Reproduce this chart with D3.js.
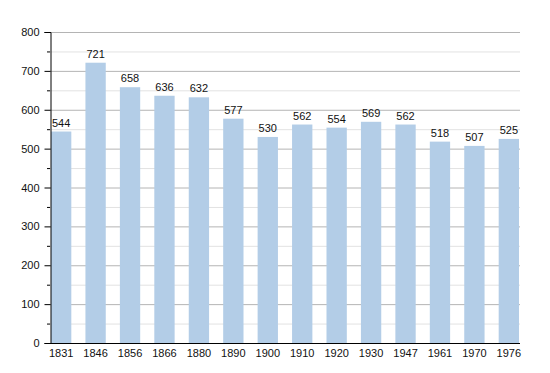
<!DOCTYPE html>
<html>
<head>
<meta charset="utf-8">
<script src="https://cdn.jsdelivr.net/npm/d3@7"></script>
<style>
  body { margin: 0; background: #fff; }
  svg text { font-family: "Liberation Sans", Arial, sans-serif; fill: #111; }
</style>
</head>
<body>
<svg width="550" height="373"></svg>
<script>
var years = ["1831", "1846", "1856", "1866", "1880", "1890", "1900", "1910", "1920", "1930", "1947", "1961", "1970", "1976"];
var population = [544, 721, 658, 636, 632, 577, 530, 562, 554, 569, 562, 518, 507, 525];
var yTicks = [0, 100, 200, 300, 400, 500, 600, 700, 800];
var yMinor = [50, 150, 250, 350, 450, 550, 650, 750];

var width = 550, height = 373;
var margin = {left: 50, right: 30, top: 32, bottom: 30};

var svg = d3.select("svg");

var x = d3.scaleBand()
  .domain(years)
  .range([margin.left + 1, width - margin.right - 1])
  .paddingInner(0.41)
  .paddingOuter(0);

var y = d3.scaleLinear()
  .domain([0, 800])
  .range([height - margin.bottom, margin.top]);

// minor grid
svg.append("g").selectAll("line")
  .data(yMinor)
  .enter().append("line")
  .attr("x1", margin.left).attr("x2", width - margin.right)
  .attr("y1", function(d) { return y(d) + 0.5; })
  .attr("y2", function(d) { return y(d) + 0.5; })
  .attr("stroke", "#e2e2e2");

// major grid
svg.append("g").selectAll("line")
  .data(yTicks.slice(1))
  .enter().append("line")
  .attr("x1", margin.left).attr("x2", width - margin.right)
  .attr("y1", function(d) { return y(d) + 0.5; })
  .attr("y2", function(d) { return y(d) + 0.5; })
  .attr("stroke", "#b4b4b4");

// bars
svg.append("g").selectAll("rect")
  .data(population)
  .enter().append("rect")
  .attr("x", function(d, i) { return x(years[i]); })
  .attr("y", function(d) { return y(d); })
  .attr("width", x.bandwidth())
  .attr("height", function(d) { return y(0) - y(d); })
  .attr("fill", "#b3cde7");

// value labels
svg.append("g").selectAll("text")
  .data(population)
  .enter().append("text")
  .attr("x", function(d, i) { return x(years[i]) + x.bandwidth() / 2; })
  .attr("y", function(d) { return y(d) - 5; })
  .attr("text-anchor", "middle")
  .style("font-size", "11px")
  .text(function(d) { return d; });

// y axis
var axisLeft = d3.axisLeft(y).tickValues(yTicks).tickSize(6).tickPadding(5);
var gy = svg.append("g")
  .attr("transform", "translate(" + (margin.left + 0.5) + ",0)")
  .call(axisLeft);
gy.select(".domain").attr("stroke", "#000");
gy.selectAll("text").style("font-size", "11px").style("font-family", "Liberation Sans, Arial, sans-serif");

svg.append("g").selectAll("line")
  .data(yMinor)
  .enter().append("line")
  .attr("x1", margin.left - 3).attr("x2", margin.left)
  .attr("y1", function(d) { return y(d) + 0.5; })
  .attr("y2", function(d) { return y(d) + 0.5; })
  .attr("stroke", "#000");

// x axis
var axisBottom = d3.axisBottom(x).tickSize(0).tickPadding(6);
var gx = svg.append("g")
  .attr("transform", "translate(0," + (y(0) + 0.5) + ")")
  .call(axisBottom);
gx.select(".domain").attr("stroke", "#000").attr("d", "M" + margin.left + ",0H" + (width - margin.right));
gx.selectAll("text").style("font-size", "11px").style("font-family", "Liberation Sans, Arial, sans-serif");
</script>
</body>
</html>
